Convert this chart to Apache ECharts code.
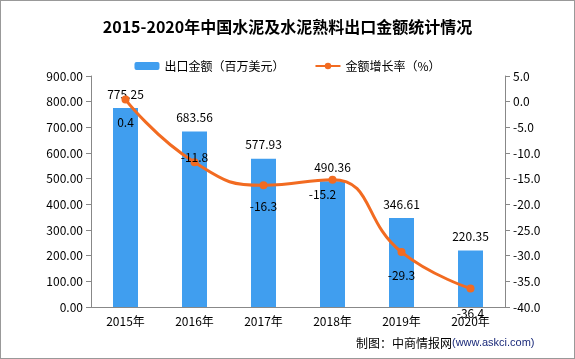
<!DOCTYPE html>
<html><head><meta charset="utf-8">
<script src="https://cdn.jsdelivr.net/npm/echarts@6/dist/echarts.min.js"></script>
<style>html,body{margin:0;padding:0;background:#fff}#c{width:575px;height:359px;box-sizing:border-box;border:1px solid #999}</style>
</head><body><div id="c"></div>
<script>
const categories = ['2015年','2016年','2017年','2018年','2019年','2020年'];
const exportValues = [775.25, 683.56, 577.93, 490.36, 346.61, 220.35];
const growthRates = [0.4, -11.8, -16.3, -15.2, -29.3, -36.4];
const growthLabelPos = ['bottom','inside','bottom','bottom','bottom','bottom'];
const growthLabelOffset = [[0,8],[0,-5],[0,6],[-10,0],[0,8],[0,10]];

const chart = echarts.init(document.getElementById('c'));
const font = '"Noto Sans CJK SC", sans-serif';
chart.setOption({
  animation: false,
  title: {
    text: '2015-2020年中国水泥及水泥熟料出口金额统计情况',
    left: 'center', top: 13,
    textStyle: {fontSize: 16, fontWeight: 'bold', color: '#000', fontFamily: font}
  },
  legend: {
    left: 'center', top: 54, itemWidth: 25, itemHeight: 8, itemGap: 30,
    textStyle: {fontSize: 12, color: '#000', fontFamily: font},
    data: ['出口金额（百万美元）', '金额增长率（%）']
  },
  grid: {left: 90, right: 69, top: 75, bottom: 51},
  xAxis: {
    type: 'category', data: categories,
    axisLine: {lineStyle: {color: '#888'}},
    axisTick: {lineStyle: {color: '#888'}},
    axisLabel: {color: '#000', fontSize: 12, fontFamily: font, margin: 8}
  },
  yAxis: [
    {type: 'value', min: 0, max: 900, interval: 100,
     axisLine: {show: true, lineStyle: {color: '#888'}},
     axisTick: {show: true, lineStyle: {color: '#888'}},
     splitLine: {show: false},
     axisLabel: {color: '#000', fontSize: 12, fontFamily: font, formatter: v => v.toFixed(2)}},
    {type: 'value', min: -40, max: 5, interval: 5,
     axisLine: {show: true, lineStyle: {color: '#888'}},
     axisTick: {show: true, lineStyle: {color: '#888'}},
     splitLine: {show: false},
     axisLabel: {color: '#000', fontSize: 12, fontFamily: font, formatter: v => v.toFixed(1)}}
  ],
  series: [
    {name: '出口金额（百万美元）', type: 'bar', data: exportValues, barWidth: 25,
     itemStyle: {color: '#409EEF'},
     label: {show: true, position: 'top', color: '#000', fontSize: 12, fontFamily: font, distance: 8}},
    {name: '金额增长率（%）', type: 'line', yAxisIndex: 1, smooth: true,
     symbol: 'circle', symbolSize: 8,
     lineStyle: {color: '#F26B21', width: 3}, itemStyle: {color: '#F26B21'},
     data: growthRates.map((v, i) => ({value: v, label: {position: growthLabelPos[i], offset: growthLabelOffset[i]}})),
     label: {show: true, color: '#000', fontSize: 12, fontFamily: font}}
  ],
  graphic: [{
    type: 'text', left: 355, top: 336,
    style: {rich: {a: {fontSize: 12, fill: '#000', fontFamily: font}, b: {fontSize: 11, fill: '#1a2a7a', fontFamily: 'Liberation Sans, Arial, sans-serif'}},
            text: '{a|制图：中商情报网}{b|(www.askci.com)}'}
  }]
});
</script></body></html>
